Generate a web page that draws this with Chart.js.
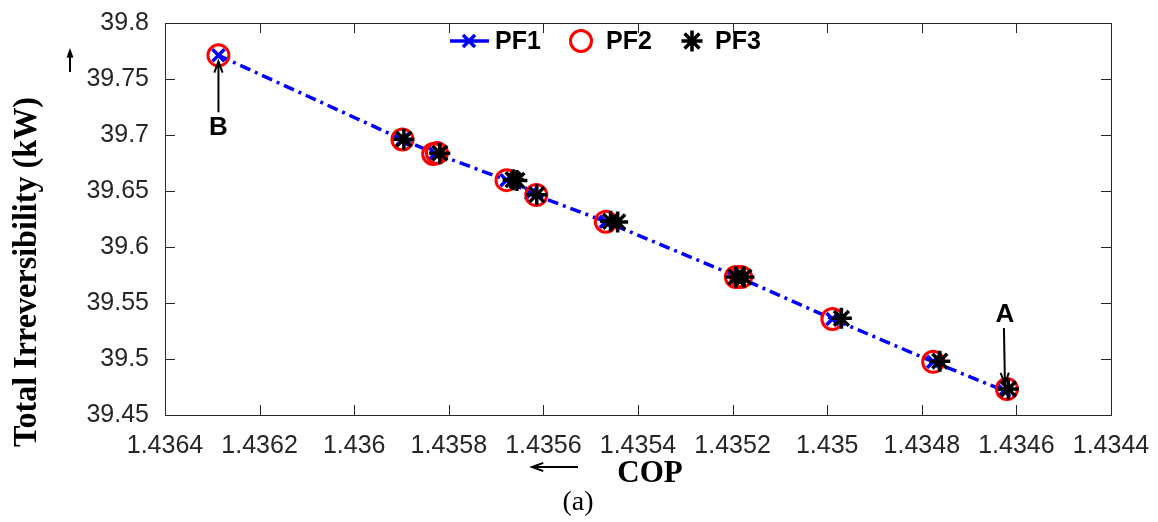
<!DOCTYPE html>
<html>
<head>
<meta charset="utf-8">
<script src="https://cdn.jsdelivr.net/npm/chart.js@4/dist/chart.umd.min.js"></script>
<style>
  body { margin: 0; background: #fff; }
  canvas { display: block; }
</style>
</head>
<body>
<canvas id="chart" width="1158" height="522"></canvas>
<script>
// Pareto fronts: COP (x) vs total irreversibility in kW (y)
const pf1Cop = [1.436287, 1.435898, 1.435829, 1.435678, 1.435626, 1.435468, 1.435188, 1.434989, 1.434776, 1.434626];
const pf1Irr = [39.7711, 39.6960, 39.6835, 39.6597, 39.6478, 39.6226, 39.5732, 39.5358, 39.4975, 39.4717];

const pf2Cop = [1.436287, 1.435898, 1.435833, 1.435825, 1.435678, 1.435615, 1.435468, 1.435193, 1.435182, 1.434989, 1.434776, 1.434620];
const pf2Irr = [39.7711, 39.6960, 39.6831, 39.6839, 39.6597, 39.6464, 39.6226, 39.5732, 39.5732, 39.5358, 39.4975, 39.4732];

const pf3Cop = [1.435895, 1.435819, 1.435664, 1.435656, 1.435614, 1.435458, 1.435443, 1.435193, 1.435176, 1.434970, 1.434762, 1.434617];
const pf3Irr = [39.6963, 39.6838, 39.6601, 39.6594, 39.6467, 39.6230, 39.6223, 39.5732, 39.5732, 39.5363, 39.4981, 39.4732];

const seriesNames = ['PF1', 'PF2', 'PF3'];
const xTitle = 'COP';
const yTitle = 'Total Irreversibility (kW)';
const caption = '(a)';
// labelled points: [label, cop, irreversibility]
const marks = [['B', 1.436287, 39.7711], ['A', 1.434620, 39.4732]];

const toPoints = (xs, ys) => xs.map((x, i) => ({ x: x, y: ys[i] }));

const axisColor = '#262626';
const tickFont = { family: '"Liberation Sans", Arial, sans-serif', size: 25 };

function arrow(ctx, x1, y1, x2, y2, head) {
    // line from (x1,y1) to tip (x2,y2) with open head
    const a = Math.atan2(y2 - y1, x2 - x1);
    ctx.beginPath();
    ctx.moveTo(x1, y1);
    ctx.lineTo(x2, y2);
    ctx.moveTo(x2 - head * Math.cos(a - 0.35), y2 - head * Math.sin(a - 0.35));
    ctx.lineTo(x2, y2);
    ctx.lineTo(x2 - head * Math.cos(a + 0.35), y2 - head * Math.sin(a + 0.35));
    ctx.stroke();
}

function legendMarker(ctx, kind, x, y) {
    ctx.beginPath();
    if (kind === 'x') {
        const r = 8.5 * Math.SQRT1_2;
        ctx.moveTo(x - r, y - r); ctx.lineTo(x + r, y + r);
        ctx.moveTo(x - r, y + r); ctx.lineTo(x + r, y - r);
    } else if (kind === 'o') {
        ctx.arc(x, y, 10.5, 0, Math.PI * 2);
    } else {
        const r = 10.5, d = r * Math.SQRT1_2;
        ctx.moveTo(x - r, y); ctx.lineTo(x + r, y);
        ctx.moveTo(x, y - r); ctx.lineTo(x, y + r);
        ctx.moveTo(x - d, y - d); ctx.lineTo(x + d, y + d);
        ctx.moveTo(x - d, y + d); ctx.lineTo(x + d, y - d);
    }
    ctx.stroke();
}

const decorations = {
    id: 'decorations',
    afterDraw(chart) {
        const ctx = chart.ctx;
        const area = chart.chartArea;
        const xs = chart.scales.x, ys = chart.scales.y;
        ctx.save();

        // box + inward ticks on all four sides
        ctx.strokeStyle = axisColor;
        ctx.lineWidth = 1;
        ctx.strokeRect(area.left + 0.5, area.top + 0.5, area.right - area.left, area.bottom - area.top);
        ctx.beginPath();
        xs.ticks.forEach(t => {
            const px = Math.round(xs.getPixelForValue(t.value)) + 0.5;
            ctx.moveTo(px, area.bottom); ctx.lineTo(px, area.bottom - 10);
            ctx.moveTo(px, area.top); ctx.lineTo(px, area.top + 10);
        });
        ys.ticks.forEach(t => {
            const py = Math.round(ys.getPixelForValue(t.value)) + 0.5;
            ctx.moveTo(area.left, py); ctx.lineTo(area.left + 10, py);
            ctx.moveTo(area.right, py); ctx.lineTo(area.right - 10, py);
        });
        ctx.stroke();

        // legend inside the plot, top centre
        const ly = 41;
        ctx.font = 'bold 25px "Liberation Sans", Arial, sans-serif';
        ctx.textBaseline = 'middle';
        ctx.textAlign = 'left';
        ctx.strokeStyle = '#0000ff';
        ctx.lineWidth = 3.5;
        ctx.beginPath(); ctx.moveTo(450, ly); ctx.lineTo(489, ly); ctx.stroke();
        legendMarker(ctx, 'x', 469, ly);
        ctx.strokeStyle = '#ff0000';
        ctx.lineWidth = 3;
        legendMarker(ctx, 'o', 581, ly);
        ctx.strokeStyle = '#000';
        ctx.lineWidth = 3.5;
        legendMarker(ctx, '*', 692, ly);
        ctx.fillStyle = '#000';
        ctx.fillText(seriesNames[0], 495, ly + 1);
        ctx.fillText(seriesNames[1], 606, ly + 1);
        ctx.fillText(seriesNames[2], 715, ly + 1);

        // A / B callouts
        ctx.lineWidth = 2;
        ctx.strokeStyle = '#000';
        ctx.textAlign = 'center';
        ctx.font = 'bold 26px "Liberation Sans", Arial, sans-serif';
        marks.forEach(m => {
            const px = xs.getPixelForValue(m[1]);
            const py = ys.getPixelForValue(m[2]);
            if (m[0] === 'B') {
                arrow(ctx, px, py + 57, px, py + 6, 12);
                ctx.fillText(m[0], px, py + 72);
            } else {
                arrow(ctx, px - 3, py - 61, px - 2, py - 5, 12);
                ctx.fillText(m[0], px - 2, py - 74);
            }
        });

        // axis titles and the little direction arrows
        ctx.lineWidth = 2;
        arrow(ctx, 70, 72, 70, 51, 7);
        arrow(ctx, 578, 467, 532, 467, 12);

        ctx.fillStyle = '#000';
        ctx.font = 'bold 31px "Liberation Serif", "Times New Roman", serif';
        ctx.textAlign = 'center';
        ctx.fillText(xTitle, 650, 474);

        ctx.font = '28px "Liberation Serif", "Times New Roman", serif';
        ctx.fillText(caption, 578, 503);

        ctx.translate(27, 272);
        ctx.rotate(-Math.PI / 2);
        ctx.font = 'bold 34px "Liberation Serif", "Times New Roman", serif';
        const w = ctx.measureText(yTitle).width;
        ctx.scale(350 / w, 1);
        ctx.fillText(yTitle, 0, 0);
        ctx.restore();
    }
};

const chart = new Chart(document.getElementById('chart'), {
    type: 'scatter',
    data: {
        datasets: [
            {
                label: seriesNames[0],
                data: toPoints(pf1Cop, pf1Irr),
                showLine: true,
                borderColor: '#0000ff',
                backgroundColor: 'rgba(0,0,0,0)',
                borderWidth: 3.5,
                borderDash: [11, 5, 3, 5],
                pointStyle: 'crossRot',
                pointRadius: 8.5,
                pointBorderWidth: 3.5,
                order: 3
            },
            {
                label: seriesNames[1],
                data: toPoints(pf2Cop, pf2Irr),
                borderColor: '#ff0000',
                backgroundColor: 'rgba(0,0,0,0)',
                pointStyle: 'circle',
                pointRadius: 10.5,
                pointBorderWidth: 3,
                order: 2
            },
            {
                label: seriesNames[2],
                data: toPoints(pf3Cop, pf3Irr),
                borderColor: '#000000',
                backgroundColor: 'rgba(0,0,0,0)',
                pointStyle: 'star',
                pointRadius: 10.5,
                pointBorderWidth: 3.5,
                order: 1
            }
        ]
    },
    options: {
        responsive: false,
        animation: false,
        devicePixelRatio: 1,
        layout: { padding: { top: 19, right: 47, left: 0, bottom: 0 } },
        plugins: { legend: { display: false }, tooltip: { enabled: false } },
        scales: {
            x: {
                type: 'linear',
                reverse: true,
                min: 1.4344,
                max: 1.4364,
                grid: { display: false },
                border: { display: false },
                afterFit: s => { s.height = 107; },
                ticks: {
                    stepSize: 0.0002,
                    autoSkip: false,
                    maxRotation: 0,
                    padding: 8,
                    color: axisColor,
                    font: tickFont,
                    callback: v => String(parseFloat(v.toFixed(4)))
                }
            },
            y: {
                type: 'linear',
                min: 39.45,
                max: 39.8,
                grid: { display: false },
                border: { display: false },
                afterFit: s => { s.width = 165; },
                ticks: {
                    stepSize: 0.05,
                    autoSkip: false,
                    padding: 8,
                    color: axisColor,
                    font: tickFont,
                    callback: v => String(parseFloat(v.toFixed(2)))
                }
            }
        }
    },
    plugins: [decorations]
});
</script>
</body>
</html>
